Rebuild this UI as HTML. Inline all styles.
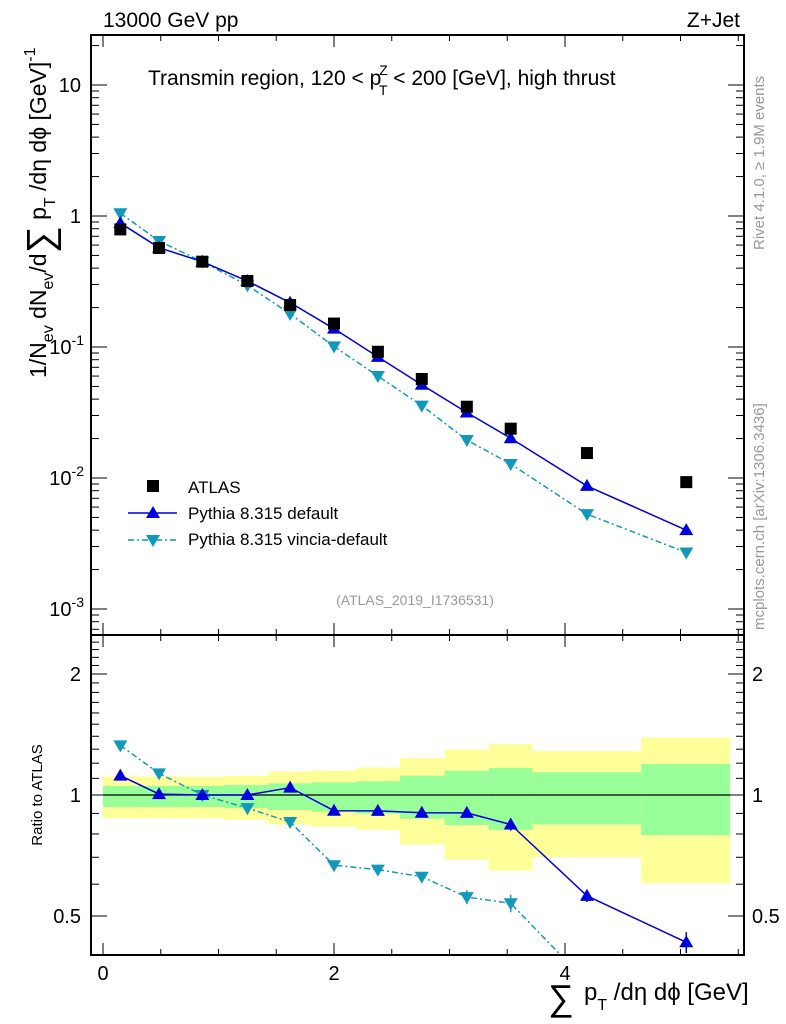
<!DOCTYPE html>
<html><head><meta charset="utf-8"><style>
body{margin:0;background:#fff}
svg{display:block;font-family:"Liberation Sans",sans-serif}
</style></head><body>
<svg id="c" width="786" height="1024" viewBox="0 0 786 1024" xmlns="http://www.w3.org/2000/svg"></svg>
<script>
const binEdges=[0,0.3,0.67,1.05,1.43,1.81,2.19,2.57,2.96,3.34,3.72,4.66,5.43];
const xCenters=[0.15,0.485,0.86,1.25,1.62,2.0,2.38,2.76,3.15,3.53,4.19,5.05];
const atlasVals=[0.79,0.57,0.448,0.319,0.209,0.151,0.092,0.057,0.035,0.0238,0.0155,0.0093];
const pythiaVals=[0.883,0.573,0.448,0.319,0.218,0.138,0.084,0.0515,0.0316,0.0201,0.0087,0.0040];
const pythiaErr=[0,0,0,0,0,0.01,0.01,0.02,0.025,0.035,0.035,0.06];
const vinciaVals=[1.05,0.645,0.448,0.296,0.179,0.101,0.060,0.0357,0.0195,0.0128,0.0053,0.0027];
const vinciaErr=[0,0,0,0,0,0.01,0.015,0.025,0.04,0.05,0.05,0.08];
const yellowUp=[1.111,1.111,1.111,1.117,1.144,1.151,1.171,1.236,1.297,1.338,1.287,1.390];
const yellowDn=[0.875,0.875,0.875,0.867,0.845,0.834,0.819,0.753,0.690,0.649,0.700,0.603];
const greenUp=[1.053,1.053,1.053,1.059,1.069,1.075,1.082,1.117,1.149,1.167,1.139,1.194];
const greenDn=[0.934,0.934,0.934,0.927,0.918,0.909,0.899,0.873,0.842,0.819,0.845,0.794];
const mainTicks=[{v:10,t:"10"},{v:1,t:"1"}];

const S=document.getElementById('c'),NS="http://www.w3.org/2000/svg";
function el(tag,at,parent){const e=document.createElementNS(NS,tag);for(const k in at)e.setAttribute(k,at[k]);(parent||S).appendChild(e);return e;}
const L=91,R=744,T=35,MB=635,RB=955;
const X=v=>103+v*115.5;
const Ym=v=>216-131*Math.log10(v);
const Yr=v=>795-402*Math.log10(v);

const clipR=el('clipPath',{id:'cr'});el('rect',{x:L,y:MB,width:R-L,height:RB-MB},clipR);
const clipM=el('clipPath',{id:'cm'});el('rect',{x:L,y:T,width:R-L,height:MB-T},clipM);
const gb=el('g',{'clip-path':'url(#cr)'});
for(let i=0;i<xCenters.length;i++){
  const x0=X(binEdges[i]),x1=X(binEdges[i+1]);
  const y=el('rect',{x:x0,y:Yr(yellowUp[i]),width:x1-x0,height:Yr(yellowDn[i])-Yr(yellowUp[i]),fill:'#ffff99'},gb);
  
  
}
for(let i=0;i<xCenters.length;i++){
  const x0=X(binEdges[i]),x1=X(binEdges[i+1]);
  const g=el('rect',{x:x0,y:Yr(greenUp[i]),width:x1-x0,height:Yr(greenDn[i])-Yr(greenUp[i]),fill:'#99ff99'},gb);
  
  
}
el('line',{x1:X(0),x2:X(5.43),y1:Yr(1),y2:Yr(1),stroke:'#000','stroke-width':1.3},gb);

function tri(g,x,y,up,col){
  const p=up?`${x},${y-7} ${x-7},${y+5} ${x+7},${y+5}`:`${x},${y+7} ${x-7},${y-5} ${x+7},${y-5}`;
  return el('polygon',{points:p,fill:col},g);
}
function series(g,vals,errs,Y,col,dash,up,name){
  const pts=vals.map((v,i)=>X(xCenters[i])+','+Y(v)).join(' ');
  const l=el('polyline',{points:pts,fill:'none',stroke:col,'stroke-width':1.5,'stroke-dasharray':dash||'none'},g);
  
  
  vals.forEach((v,i)=>{
    const x=X(xCenters[i]);
    if(errs[i]>0){el('line',{x1:x,x2:x,y1:Y(v*(1+errs[i])),y2:Y(v*(1-errs[i])),stroke:col,'stroke-width':1.5},g);}
    const m=tri(g,x,Y(v),up,col);
    
    
  });
}
const gm=el('g',{'clip-path':'url(#cm)'});
series(gm,vinciaVals,vinciaErr,Ym,'#1199bb','6,3,2,3',false,'vincia');
series(gm,pythiaVals,pythiaErr,Ym,'#0000dd',null,true,'pythia');
atlasVals.forEach((v,i)=>{
  const r=el('rect',{x:X(xCenters[i])-6,y:Ym(v)-6,width:12,height:12,fill:'#000'},gm);
  
  
});
const gr=el('g',{'clip-path':'url(#cr)'});
series(gr,vinciaVals.map((v,i)=>v/atlasVals[i]),vinciaErr,Yr,'#1199bb','6,3,2,3',false,'vincia-ratio');
series(gr,pythiaVals.map((v,i)=>v/atlasVals[i]),pythiaErr,Yr,'#0000dd',null,true,'pythia-ratio');

el('rect',{x:L,y:T,width:R-L,height:MB-T,fill:'none',stroke:'#000','stroke-width':2});
el('rect',{x:L,y:MB,width:R-L,height:RB-MB,fill:'none',stroke:'#000','stroke-width':2});
for(let v=0;v<=5.5;v+=0.5){
  const x=X(v),big=(v%2===0)?12:6;
  [[T,1],[MB,-1],[MB,1],[RB,-1]].forEach(([y,d])=>el('line',{x1:x,x2:x,y1:y,y2:y+d*big,stroke:'#000','stroke-width':1}));
}
[0,2,4].forEach(v=>{const t=el('text',{x:X(v),y:980,'font-size':20,'text-anchor':'middle'});t.textContent=v;
});
for(let d=-4;d<=1;d++)for(let k=1;k<10;k++){
  const v=k*Math.pow(10,d),y=Ym(v);if(y<T||y>MB)continue;
  const len=k===1?16:8;
  el('line',{x1:L,x2:L+len,y1:y,y2:y,stroke:'#000'});el('line',{x1:R,x2:R-len,y1:y,y2:y,stroke:'#000'});
}
mainTicks.forEach(o=>{const t=el('text',{x:81,y:Ym(o.v)+7,'font-size':20,'text-anchor':'end'});t.textContent=o.t;
});
[-1,-2,-3].forEach(e=>{const t=el('text',{x:84,y:Ym(Math.pow(10,e))+7,'font-size':20,'text-anchor':'end'});
t.innerHTML='10<tspan dy="-9" font-size="14">'+e+'</tspan>';
});
for(let v=0.4;v<=2.5;v+=0.1){const y=Yr(v);if(y<MB||y>RB)continue;
  const major=Math.abs(v-1)<1e-6||Math.abs(v-2)<1e-6||Math.abs(v-0.5)<1e-6;const len=major?16:8;
  el('line',{x1:L,x2:L+len,y1:y,y2:y,stroke:'#000'});el('line',{x1:R,x2:R-len,y1:y,y2:y,stroke:'#000'});}
[[2,'2'],[1,'1'],[0.5,'0.5']].forEach(([v,s])=>{
  let t=el('text',{x:81,y:Yr(v)+7,'font-size':20,'text-anchor':'end'});t.textContent=s;
  
  t=el('text',{x:752,y:Yr(v)+7,'font-size':20});t.textContent=s;
  });
</script>
<svg style="position:absolute;left:0;top:0" width="786" height="1024" xmlns="http://www.w3.org/2000/svg" font-family="Liberation Sans, sans-serif">
<text x="103" y="27" font-size="21">13000 GeV pp</text>
<text x="740" y="27" font-size="21" text-anchor="end">Z+Jet</text>
<text x="148" y="85" font-size="21">Transmin region, 120 &lt; p<tspan font-size="14" dx="-2" dy="-10">Z</tspan><tspan font-size="14" dx="-9" dy="20">T</tspan><tspan dy="-10"> &lt; 200 [GeV], high thrust</tspan></text>
<text x="415" y="605" font-size="14" fill="#999" text-anchor="middle">(ATLAS_2019_I1736531)</text>
<g>
<rect x="147" y="480" width="12" height="12" fill="#000"/>
<text x="188" y="493" font-size="17">ATLAS</text>
<line x1="128" x2="177" y1="513" y2="513" stroke="#0000dd" stroke-width="1.5"/>
<polygon points="153,506 146,518 160,518" fill="#0000dd"/>
<text x="188" y="519" font-size="17">Pythia 8.315 default</text>
<line x1="128" x2="177" y1="540" y2="540" stroke="#1199bb" stroke-width="1.5" stroke-dasharray="6,3,2,3"/>
<polygon points="153,547 146,535 160,535" fill="#1199bb"/>
<text x="188" y="545" font-size="17">Pythia 8.315 vincia-default</text>
</g>
<text transform="translate(46,378) rotate(-90)" font-size="23">1/N<tspan font-size="16" dy="7">ev</tspan><tspan dy="-7"> dN</tspan><tspan font-size="16" dy="7">ev</tspan><tspan dy="-7">/d</tspan><tspan font-size="38" dy="7">∑</tspan><tspan dy="-7"> p</tspan><tspan font-size="16" dy="9">T</tspan><tspan dy="-9"> /dη dϕ  [GeV]</tspan><tspan font-size="16" dy="-11">-1</tspan></text>
<text transform="translate(42,795) rotate(-90)" font-size="15" text-anchor="middle">Ratio to ATLAS</text>
<text x="548" y="1010" font-size="36">∑</text>
<text x="584" y="1000" font-size="24">p<tspan font-size="16" dy="10">T</tspan><tspan dy="-10"> /dη dϕ [GeV]</tspan></text>
<text transform="translate(764,250) rotate(-90)" font-size="15" fill="#999">Rivet 4.1.0, ≥ 1.9M events</text>
<text transform="translate(764,630) rotate(-90)" font-size="15" fill="#999">mcplots.cern.ch [arXiv:1306.3436]</text>
</svg>
</body></html>
